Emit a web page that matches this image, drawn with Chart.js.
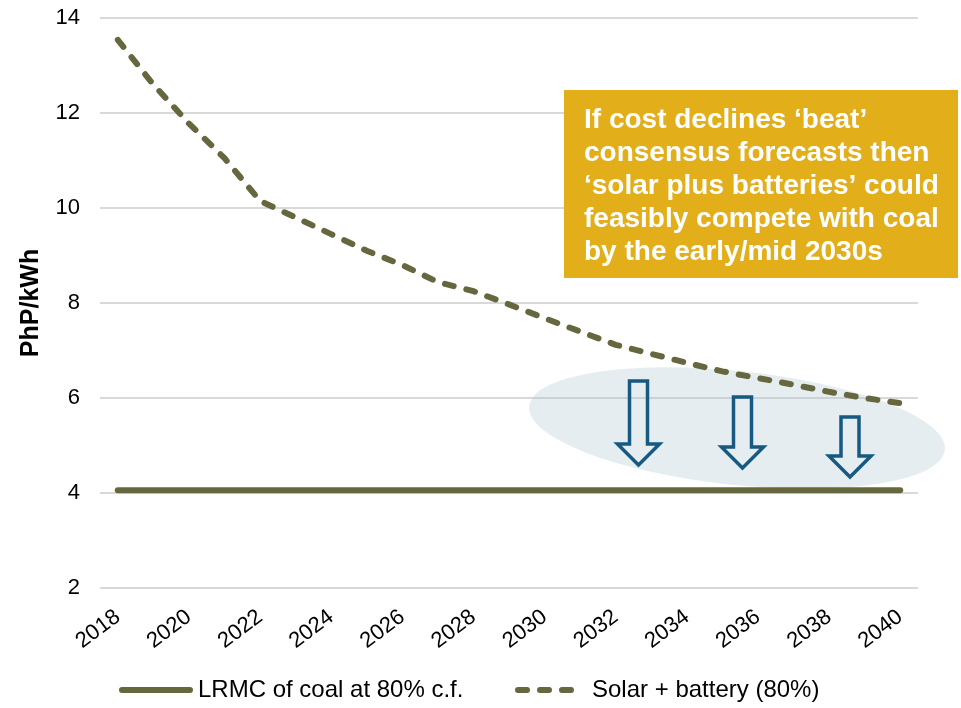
<!DOCTYPE html>
<html>
<head>
<meta charset="utf-8">
<script src="https://cdn.jsdelivr.net/npm/chart.js@4.4.1/dist/chart.umd.min.js"></script>
<style>
  html, body { margin: 0; padding: 0; background: #fff; }
  #wrap { width: 961px; height: 708px; }
</style>
</head>
<body>
<div id="wrap"><canvas id="lineChart" width="961" height="708"></canvas></div>
<script>
// data
var years = ["2018", "2019", "2020", "2021", "2022", "2023", "2024", "2025", "2026", "2027", "2028", "2029",
             "2030", "2031", "2032", "2033", "2034", "2035", "2036", "2037", "2038", "2039", "2040"];
var coalLrmc = [4.06, 4.06, 4.06, 4.06, 4.06, 4.06, 4.06, 4.06, 4.06, 4.06, 4.06, 4.06,
                4.06, 4.06, 4.06, 4.06, 4.06, 4.06, 4.06, 4.06, 4.06, 4.06, 4.06];
var solarBattery = [13.54, 12.6, 11.78, 11.05, 10.15, 9.8, 9.45, 9.1, 8.8, 8.44, 8.25, 7.97,
                    7.68, 7.4, 7.12, 6.93, 6.74, 6.56, 6.42, 6.28, 6.13, 6.0, 5.89];
var yTicks = [2, 4, 6, 8, 10, 12, 14];
var seriesNames = ["LRMC of coal at 80% c.f.", "Solar + battery (80%)"];
var noteLines = ["If cost declines \u2018beat\u2019", "consensus forecasts then",
                 "\u2018solar plus batteries\u2019 could", "feasibly compete with coal",
                 "by the early/mid 2030s"];

var FONT = "'Liberation Sans', Arial, sans-serif";
var olive = "#67673f";

// shaded ellipse + arrows + note box + legend
var annotations = {
  id: 'annotations',
  beforeDatasetsDraw: function(chart) {
    var ctx = chart.ctx;
    ctx.save();
    ctx.fillStyle = "rgba(168, 194, 210, 0.3)";
    ctx.beginPath();
    ctx.ellipse(737, 428, 209, 57, 6 * Math.PI / 180, 0, Math.PI * 2);
    ctx.fill();
    ctx.restore();
  },
  afterDatasetsDraw: function(chart) {
    var ctx = chart.ctx;
    var arrows = [[638.5, 381, 465], [742.5, 397, 468], [850, 417, 477]];
    ctx.save();
    ctx.strokeStyle = "#165a82";
    ctx.lineWidth = 3.5;
    ctx.lineJoin = "miter";
    arrows.forEach(function(a) {
      var cx = a[0], top = a[1], tip = a[2];
      var sw = 9, hw = 21, hh = 21;
      ctx.beginPath();
      ctx.moveTo(cx - sw, top);
      ctx.lineTo(cx + sw, top);
      ctx.lineTo(cx + sw, tip - hh);
      ctx.lineTo(cx + hw, tip - hh);
      ctx.lineTo(cx, tip);
      ctx.lineTo(cx - hw, tip - hh);
      ctx.lineTo(cx - sw, tip - hh);
      ctx.closePath();
      ctx.stroke();
    });
    ctx.restore();
  },
  afterDraw: function(chart) {
    var ctx = chart.ctx;
    ctx.save();
    // note box
    ctx.fillStyle = "#e2ae19";
    ctx.fillRect(564, 90, 394, 188);
    ctx.fillStyle = "#ffffff";
    ctx.font = "bold 28px " + FONT;
    ctx.textBaseline = "alphabetic";
    noteLines.forEach(function(t, i) {
      ctx.fillText(t, 584, 128 + i * 33);
    });
    // legend
    var slots = [[122, 190, 198], [518, 584, 592]];
    ctx.font = "24px " + FONT;
    ctx.textBaseline = "middle";
    chart.data.datasets.forEach(function(ds, i) {
      var s = slots[i];
      ctx.strokeStyle = ds.borderColor;
      ctx.lineWidth = ds.borderWidth;
      ctx.lineCap = 'round';
      ctx.setLineDash(ds.borderDash || []);
      ctx.beginPath();
      ctx.moveTo(s[0], 690);
      ctx.lineTo(s[1], 690);
      ctx.stroke();
      ctx.setLineDash([]);
      ctx.fillStyle = '#000';
      ctx.fillText(ds.label, s[2], 690);
    });
    ctx.restore();
  }
};

var ctxL = document.getElementById("lineChart").getContext('2d');
var myLineChart = new Chart(ctxL, {
  type: 'line',
  data: {
    labels: years,
    datasets: [{
      label: seriesNames[0],
      data: coalLrmc,
      borderColor: olive,
      backgroundColor: olive,
      borderWidth: 6,
      borderCapStyle: 'round',
      pointRadius: 0,
      tension: 0
    }, {
      label: seriesNames[1],
      data: solarBattery,
      borderColor: olive,
      backgroundColor: olive,
      borderWidth: 6,
      borderDash: [9, 13],
      borderCapStyle: 'round',
      pointRadius: 0,
      tension: 0
    }]
  },
  options: {
    responsive: false,
    animation: false,
    layout: { padding: { top: 18, right: 43, left: 0, bottom: 0 } },
    plugins: {
      tooltip: { enabled: false },
      legend: { display: false }
    },
    scales: {
      x: {
        offset: true,
        grid: { display: false },
        border: { display: false },
        afterFit: function(s) {
          s.height = 120;
          s.paddingLeft = 0; s.paddingRight = 0; s.paddingTop = 0; s.paddingBottom = 0;
        },
        ticks: {
          autoSkip: false,
          minRotation: 37,
          maxRotation: 37,
          padding: 8,
          color: '#000',
          font: { family: FONT, size: 22 },
          callback: function(v, i) { return i % 2 === 0 ? this.getLabelForValue(v) : ''; }
        }
      },
      y: {
        min: yTicks[0],
        max: yTicks[yTicks.length - 1],
        afterFit: function(s) {
          s.width = 100;
          s.paddingTop = 0; s.paddingBottom = 0; s.paddingLeft = 0; s.paddingRight = 0;
        },
        grid: { color: '#d9d9d9', lineWidth: 2, drawTicks: false },
        border: { display: false },
        ticks: {
          stepSize: 2,
          padding: 20,
          color: '#000',
          font: { family: FONT, size: 22 }
        },
        title: {
          display: true,
          text: 'PhP/kWh',
          color: '#000',
          font: { family: FONT, size: 25, weight: 'bold' },
          padding: { top: 16, bottom: 0 }
        }
      }
    }
  },
  plugins: [annotations]
});
</script>
</body>
</html>
